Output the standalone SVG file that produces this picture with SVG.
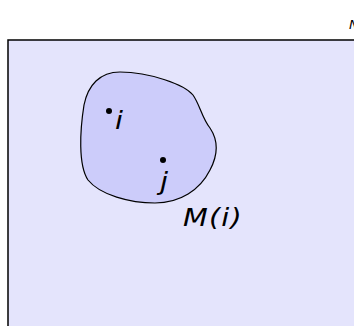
<svg xmlns="http://www.w3.org/2000/svg" width="354" height="326" viewBox="0 0 354 326">
<style>
.lbl{font-family:"DejaVu Sans","Liberation Sans",sans-serif;font-style:italic;font-size:25px;fill:#000}
.dot{fill:#000}
</style>
<rect width="354" height="326" fill="#fff"/>
<g id="universe">
<rect x="8" y="40" width="360" height="300" fill="#e4e4fc" stroke="#000" stroke-width="1.5"/>
</g>
<text class="lbl" x="349" y="29" style="font-size:13px">N</text>
<g id="Mi">
<path d="M 120 72 C 150 72 185 85 193 95 C 200 105 202 118 210 128 C 218 140 218 155 210 170 C 200 190 180 203 155 203 C 130 203 100 195 88 180 C 78 165 80 130 84 105 C 88 85 100 72 120 72 Z" fill="#ccccfa" stroke="#000" stroke-width="1.2"/>
<text class="lbl" transform="translate(183,226) scale(1.15,1)" letter-spacing="1">M(i)</text>
</g>
<g id="i">
<circle class="dot" cx="109" cy="111" r="3"/>
<text class="lbl" transform="translate(115,129) scale(1.15,1)">i</text>
</g>
<g id="j">
<circle class="dot" cx="163" cy="160" r="3"/>
<text class="lbl" transform="translate(160,190) scale(1.15,1)">j</text>
</g>
</svg>
